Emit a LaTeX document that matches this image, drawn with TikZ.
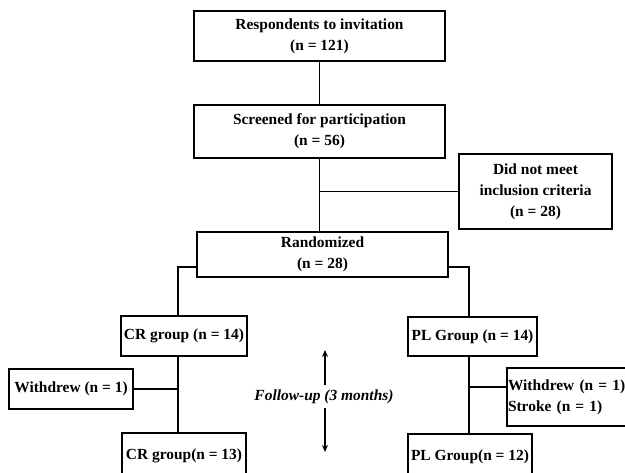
\documentclass[tikz,border=0pt]{standalone}
\usepackage{fontspec}
\setmainfont{Liberation Serif}
\usetikzlibrary{arrows.meta}
\begin{document}
\begin{tikzpicture}[x=1bp,y=-1bp,
  box/.style={draw,line width=1.7bp,inner xsep=2bp,inner ysep=1bp,align=center,
    font=\bfseries\fontsize{15.5}{21}\selectfont},
  conn/.style={line width=1.7bp},
  arr/.style={line width=1.5bp,-{Stealth[length=7bp,width=6bp]}}]
\clip (0,0) rectangle (625,473);
\fill[white] (0,0) rectangle (625,473);
% boxes
\node[box,minimum width=251bp,minimum height=50bp] (resp) at (319.5,36) {Respondents to invitation\\(n = 121)};
\node[box,minimum width=251bp,minimum height=53bp] (screen) at (319.5,131.5) {Screened for participation\\(n = 56)};
\node[box,minimum width=153bp,minimum height=75bp] (dnm) at (535.5,191.5) {Did not meet\\inclusion criteria\\(n = 28)};
\node[box,minimum width=251bp,minimum height=45bp] (rand) at (322.5,254.5) {Randomized\\(n = 28)};
\node[box,minimum width=126bp,minimum height=40bp] (cr1) at (184,336) {CR group (n = 14)};
\node[box,minimum width=124bp,minimum height=40bp] (wd1) at (71,389) {Withdrew (n = 1)};
\node[box,minimum width=124bp,minimum height=46bp] (cr2) at (184,456) {CR group(n = 13)};
\node[box,minimum width=129bp,minimum height=39bp] (pl1) at (472.5,336.5) {PL Group (n = 14)};
\node[box,inner xsep=1bp,text width=126bp,align=left,minimum height=58bp] (wd2) at (571,397) {Withdrew (n = 1)\\Stroke (n = 1)};
\node[box,minimum width=124bp,minimum height=46bp] (pl2) at (470,457) {PL Group(n = 12)};
\node[font=\bfseries\itshape\fontsize{15.5}{21}\selectfont] (fu) at (324,397) {Follow-up (3 months)};
% coordinates
\coordinate (lx) at (178,267);
\coordinate (rx) at (469,267);
\coordinate (upA) at (325,385);
\coordinate (upB) at (325,350);
\coordinate (dnA) at (325,408);
\coordinate (dnB) at (325,452);
% connectors
\draw[conn] (resp.south) -- (screen.north);
\draw[conn] (screen.south) -- (screen.south |- rand.north);
\draw[conn] (dnm.west) -- (dnm.west -| screen.south);
\draw[conn] (rand.west |- lx) -- (lx) -- (lx |- cr1.north);
\draw[conn] (lx |- cr1.south) -- (lx |- cr2.north);
\draw[conn] (wd1.east) -- (wd1.east -| lx);
\draw[conn] (rand.east |- rx) -- (rx) -- (rx |- pl1.north);
\draw[conn] (rx |- pl1.south) -- (rx |- pl2.north);
\draw[conn] ([yshift=10bp]wd2.west) -- ([yshift=10bp]wd2.west -| rx);
\draw[arr] (upA) -- (upB);
\draw[arr] (dnA) -- (dnB);
\end{tikzpicture}
\end{document}
